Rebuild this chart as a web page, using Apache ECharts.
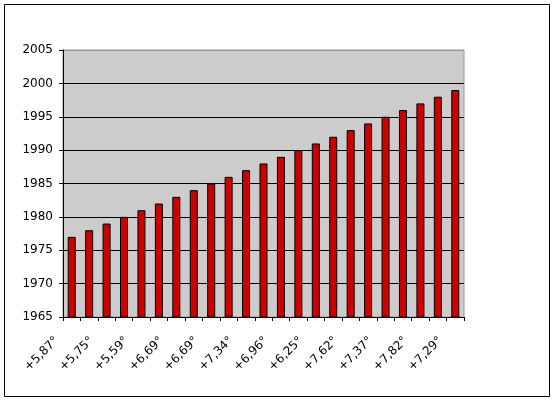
<!DOCTYPE html>
<html><head><meta charset="utf-8">
<script src="https://cdn.jsdelivr.net/npm/echarts@6/dist/echarts.min.js"></script>
<style>html,body{margin:0;padding:0;background:#fff}#c{width:555px;height:401px}</style>
</head><body><div id="c"></div>
<script>
// Category labels (only every other one is legible in the reference; others unknown -> blank)
var categories = ['+5,87°','','+5,75°','','+5,59°','','+6,69°','','+6,69°','','+7,34°','','+6,96°','','+6,25°','','+7,62°','','+7,37°','','+7,82°','','+7,29°'];
var years = [1977,1978,1979,1980,1981,1982,1983,1984,1985,1986,1987,1988,1989,1990,1991,1992,1993,1994,1995,1996,1997,1998,1999];
var yMin = 1965, yMax = 2005, yStep = 5;

var chart = echarts.init(document.getElementById('c'), null, {renderer:'canvas'});
var font = '"DejaVu Sans", Verdana, sans-serif';
chart.setOption({
  backgroundColor:'#fff',
  animation:false,
  graphic:[{type:'rect',shape:{x:4.5,y:4.5,width:545,height:392},style:{fill:'none',stroke:'#000',lineWidth:1},z:100}],
  grid:{left:63,top:50,width:401,height:267,show:true,backgroundColor:'#cccccc',borderColor:'#999',borderWidth:1},
  xAxis:{type:'category',data:categories,
    axisLine:{lineStyle:{color:'#000',width:1}},
    axisTick:{show:true,length:4,interval:0,lineStyle:{color:'#000'}},
    axisLabel:{interval:0,rotate:45,color:'#000',fontFamily:font,fontSize:12,margin:7,padding:[0,21,0,0]},
    splitLine:{show:false}},
  yAxis:{type:'value',min:yMin,max:yMax,interval:yStep,
    axisLine:{show:true,lineStyle:{color:'#000',width:1}},
    axisTick:{show:true,length:4,lineStyle:{color:'#000'}},
    axisLabel:{color:'#000',fontFamily:font,fontSize:12,margin:10,formatter:function(v){return String(v);}},
    splitLine:{show:true,lineStyle:{color:['#000','#000','#000','#000','#000','#000','#000','#000','#999'],width:1}}},
  series:[{type:'bar',data:years,barWidth:'46%',
    itemStyle:{color:'#cc0000',borderColor:'#000',borderWidth:1}}]
});
</script></body></html>
